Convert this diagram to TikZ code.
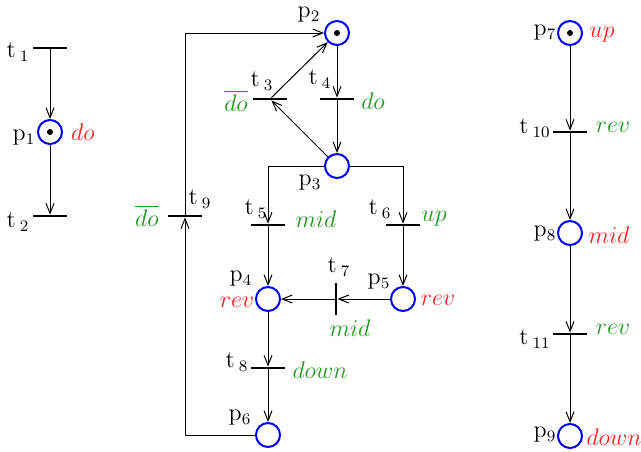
\documentclass[tikz,border=0pt]{standalone}
\usepackage{amsmath}
\usepackage{xcolor}
\usepackage{tikz}
\usetikzlibrary{arrows.meta,positioning,calc}
\definecolor{plblue}{RGB}{0,0,255}
\definecolor{sigred}{RGB}{255,30,30}
\definecolor{evgreen}{RGB}{30,150,30}

\begin{document}
\begin{tikzpicture}[x=0.5pt,y=-0.5pt,
  place/.style={circle,draw=plblue,line width=1pt,minimum size=12pt,inner sep=0pt},
  marked/.style={place,label={[circle,fill=black,inner sep=0pt,minimum size=3pt]center:}},
  trans/.style={fill=black,inner sep=0pt,minimum width=17pt,minimum height=1pt},
  vtrans/.style={fill=black,inner sep=0pt,minimum width=1pt,minimum height=16pt},
  nm/.style={font=\large,inner sep=1pt},
  sig/.style={font=\large,text=sigred,inner sep=1pt},
  ev/.style={font=\large,text=evgreen,inner sep=1pt},
  arr/.style={-{Straight Barb[length=5pt,width=4pt]},line width=0.5pt}]
\useasboundingbox (0,0) rectangle (641,451);
% left net
\node[trans] (t1) at (50,48) {};
\node[marked] (p1) at (50,132) {};
\node[trans] (t2) at (50,216) {};
\node[nm] at (18,52) {t\,$_{1}$};
\node[nm] at (24,138) {p$_{1}$};
\node[sig] at (83,132) {$do$};
\node[nm] at (18,222) {t\,$_{2}$};
\draw[arr] (t1) -- (p1);
\draw[arr] (p1) -- (t2);
% middle net
\node[marked] (p2) at (337,33) {};
\node[trans] (t3) at (270,99) {};
\node[trans] (t4) at (337,99) {};
\node[place] (p3) at (337,166) {};
\node[trans] (t5) at (268,225) {};
\node[trans] (t6) at (403,225) {};
\node[place] (p4) at (268,299) {};
\node[place] (p5) at (403,299) {};
\node[vtrans] (t7) at (336,299) {};
\node[trans] (t8) at (268,368) {};
\node[place] (p6) at (268,435) {};
\node[trans] (t9) at (185,216) {};
\node[nm] at (309,15) {p$_{2}$};
\node[nm] at (262,81) {t\,$_{3}$};
\node[ev] at (236,101) {$\overline{do}$};
\node[nm] at (320,79) {t\,$_{4}$};
\node[ev] at (373,101) {$do$};
\node[nm] at (310,183) {p$_{3}$};
\node[nm] at (256,209) {t\,$_{5}$};
\node[ev] at (316,219) {$mid$};
\node[nm] at (380,209) {t\,$_{6}$};
\node[ev] at (434,219) {$up$};
\node[nm] at (241,279) {p$_{4}$};
\node[sig] at (237,302) {$rev$};
\node[nm] at (339,267) {t\,$_{7}$};
\node[ev] at (350,328) {$mid$};
\node[nm] at (379,282) {p$_{5}$};
\node[sig] at (438,300) {$rev$};
\node[nm] at (237,362) {t\,$_{8}$};
\node[ev] at (320,370) {$down$};
\node[nm] at (240,418) {p$_{6}$};
\node[nm] at (200,199) {t\,$_{9}$};
\node[ev] at (147,216) {$\overline{do}$};
\draw[arr] (p2) -- (t4);
\draw[arr] (t4) -- (p3);
\draw[arr] (p3) -- (t3);
\draw[arr] (t3) -- (p2);
\draw[arr] (p3.west) -| (t5);
\draw[arr] (p3.east) -| (t6);
\draw[arr] (t5) -- (p4);
\draw[arr] (t6) -- (p5);
\draw[arr] (p5) -- (t7);
\draw[arr] (t7) -- (p4);
\draw[arr] (p4) -- (t8);
\draw[arr] (t8) -- (p6);
\draw[arr] (p6.west) -| (t9);
\draw[arr] (t9) |- (p2.west);
% right net
\node[marked] (p7) at (570,33) {};
\node[trans] (t10) at (570,132) {};
\node[place] (p8) at (570,233) {};
\node[trans] (t11) at (570,334) {};
\node[place] (p9) at (570,436) {};
\node[nm] at (545,33) {p$_{7}$};
\node[sig] at (602,35) {$up$};
\node[nm] at (535,128) {t\,$_{10}$};
\node[ev] at (613,127) {$rev$};
\node[nm] at (545,234) {p$_{8}$};
\node[sig] at (609,235) {$mid$};
\node[nm] at (535,339) {t\,$_{11}$};
\node[ev] at (613,329) {$rev$};
\node[nm] at (545,435) {p$_{9}$};
\node[sig] at (614,437) {$down$};
\draw[arr] (p7) -- (t10);
\draw[arr] (t10) -- (p8);
\draw[arr] (p8) -- (t11);
\draw[arr] (t11) -- (p9);
\end{tikzpicture}
\end{document}
